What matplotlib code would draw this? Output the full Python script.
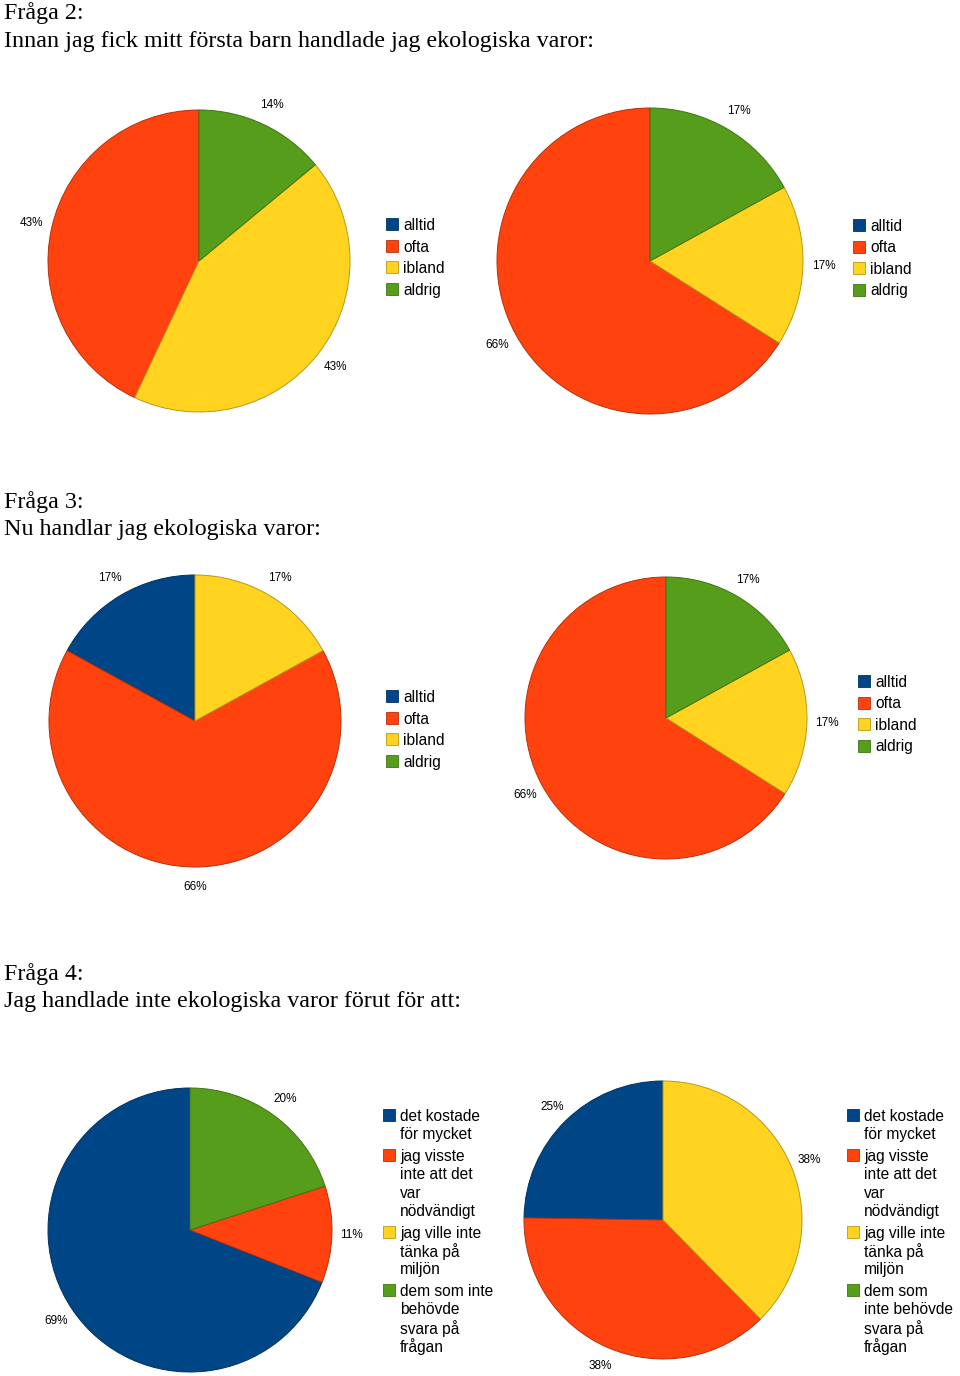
import matplotlib.pyplot as plt
from matplotlib.patches import Rectangle

W, H = 960, 1376

# svarsalternativ
svar_kort = ['alltid', 'ofta', 'ibland', 'aldrig']
svar_orsak_v = ['det kostade\nför mycket',
                'jag visste\ninte att det\nvar\nnödvändigt',
                'jag ville inte\ntänka på\nmiljön',
                'dem som inte\nbehövde\nsvara på\nfrågan']
svar_orsak_h = ['det kostade\nför mycket',
                'jag visste\ninte att det\nvar\nnödvändigt',
                'jag ville inte\ntänka på\nmiljön',
                'dem som\ninte behövde\nsvara på\nfrågan']

# procent per svar (alltid, ofta, ibland, aldrig / orsaker)
fraga2_vanster = [0, 43, 43, 14]
fraga2_hoger = [0, 66, 17, 17]
fraga3_vanster = [17, 66, 17, 0]
fraga3_hoger = [0, 66, 17, 17]
fraga4_vanster = [69, 11, 0, 20]
fraga4_hoger = [25, 38, 38, 0]

rubriker = [('Fråga 2:', 'Innan jag fick mitt första barn handlade jag ekologiska varor:'),
            ('Fråga 3:', 'Nu handlar jag ekologiska varor:'),
            ('Fråga 4:', 'Jag handlade inte ekologiska varor förut för att:')]

farger = ['#004586', '#ff420e', '#ffd320', '#579d1c']
kanter = ['#00325f', '#b8300a', '#b89918', '#3f7414']

fig = plt.figure(figsize=(W / 100, H / 100), dpi=100)

# overlay for rubriker och förklaringar
bas = fig.add_axes([0, 0, 1, 1])
bas.set_xlim(0, W)
bas.set_ylim(H, 0)
bas.axis('off')


def rita_paj(cx, cy, r, varden):
    m = 1.3
    ax = fig.add_axes([(cx - r * m) / W, (H - cy - r * m) / H, 2 * r * m / W, 2 * r * m / H])
    # nollvärden hoppas över så att inga tomma kilar ritas
    v = [x for x in varden if x > 0]
    f = [c for x, c in zip(varden, farger) if x > 0]
    k = [c for x, c in zip(varden, kanter) if x > 0]
    kilar, _, texter = ax.pie(v, colors=f, startangle=90, counterclock=True,
                              autopct=lambda p: f'{p:.0f}%', pctdistance=1.14,
                              frame=True, wedgeprops=dict(linewidth=0.7))
    for kil, kant in zip(kilar, k):
        kil.set_edgecolor(kant)
    for t in texter:
        t.set_fontsize(8.5)
        t.set_fontfamily('Liberation Sans')
    ax.set_xlim(-m, m)
    ax.set_ylim(-m, m)
    ax.set_aspect('equal')
    ax.axis('off')


def rita_forklaring(x, y, etiketter):
    steg = 18.4
    for farg, kant, text in zip(farger, kanter, etiketter):
        bas.add_patch(Rectangle((x, y - 6), 12, 12, facecolor=farg, edgecolor=kant, lw=0.6))
        rader = text.split('\n')
        for i, rad in enumerate(rader):
            bas.text(x + 17, y + i * steg, rad, va='center_baseline', ha='left',
                     fontsize=11.2, family='Liberation Sans')
        y += len(rader) * steg + 3.1


# rubriker
for (r1, r2), y0 in zip(rubriker, [13, 502, 974]):
    bas.text(4, y0, r1, va='center', ha='left', fontsize=17.3, family='Liberation Serif')
    bas.text(4, y0 + 28, r2, va='center', ha='left', fontsize=17.3, family='Liberation Serif')

# fråga 2
rita_paj(199, 261, 151, fraga2_vanster)
rita_forklaring(386, 224, svar_kort)
rita_paj(650, 261, 153, fraga2_hoger)
rita_forklaring(853, 225, svar_kort)

# fråga 3
rita_paj(195, 721, 146, fraga3_vanster)
rita_forklaring(386, 696, svar_kort)
rita_paj(666, 718, 141, fraga3_hoger)
rita_forklaring(858, 681, svar_kort)

# fråga 4
rita_paj(190, 1230, 142, fraga4_vanster)
rita_forklaring(383, 1115, svar_orsak_v)
rita_paj(663, 1220, 139, fraga4_hoger)
rita_forklaring(847, 1115, svar_orsak_h)

fig.savefig('out.png', dpi=100)
